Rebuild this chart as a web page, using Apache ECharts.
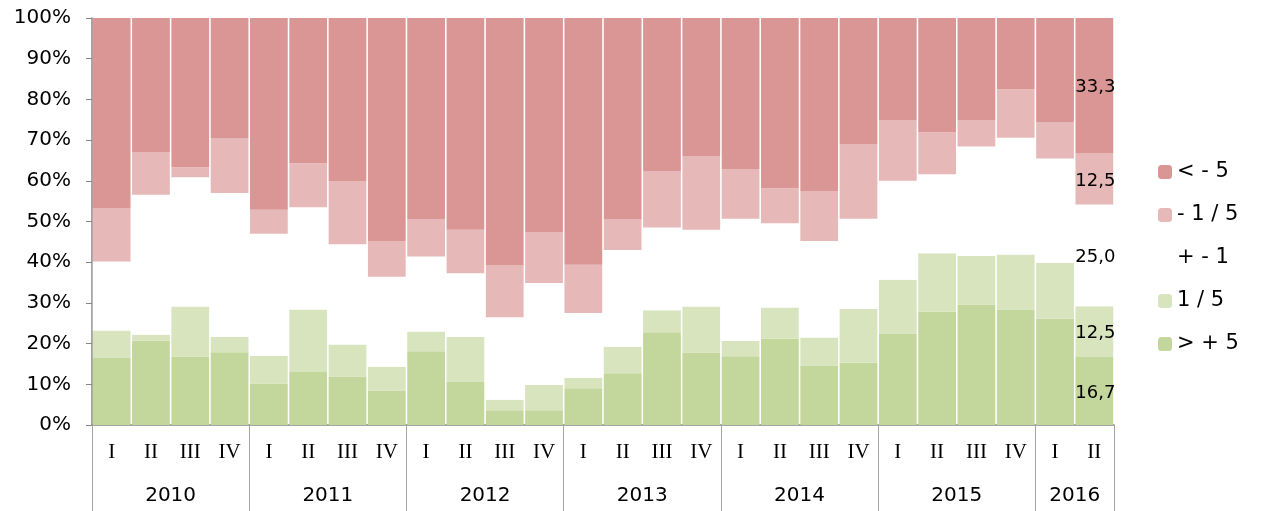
<!DOCTYPE html>
<html>
<head>
<meta charset="utf-8">
<title>chart</title>
<script src="https://cdn.jsdelivr.net/npm/echarts@6/dist/echarts.min.js"></script>
<style>
  html, body { margin: 0; padding: 0; background: #fff; }
  #main { width: 1262px; height: 511px; }
</style>
</head>
<body>
<div id="main"></div>
<script>
// quarters 2010 I .. 2016 II
const quarters = ['I','II','III','IV','I','II','III','IV','I','II','III','IV','I','II','III','IV',
                  'I','II','III','IV','I','II','III','IV','I','II'];
const years = ['2010','2011','2012','2013','2014','2015','2016'];
const quartersPerYear = [4, 4, 4, 4, 4, 4, 2];

// shares in %, one value per quarter
const plus5   = [16.6,20.7,16.8,17.9,10.2,13.0,11.9,8.5,18.1,10.7,3.6,3.6,9.0,12.7,22.8,17.8,16.9,21.2,14.6,15.3,22.5,27.8,29.6,28.4,26.1,16.7];
const oneFive = [6.6,1.5,12.3,3.8,6.8,15.4,7.9,5.8,4.9,10.9,2.6,6.2,2.6,6.5,5.4,11.3,3.8,7.7,6.9,13.2,13.2,14.4,11.9,13.5,13.7,12.5];
const plusMinus1 = [17.0,34.4,31.8,35.3,30.0,25.1,24.6,22.1,18.4,15.7,20.3,25.1,15.9,23.8,20.3,18.9,30.0,20.7,23.7,22.2,24.3,19.4,26.9,28.7,25.7,25.0];
const minusOneFive = [13.0,10.5,2.4,13.4,5.9,10.8,15.4,8.8,9.1,10.7,12.7,12.5,11.9,7.5,13.8,18.0,12.1,8.6,12.2,18.2,14.8,10.3,6.4,11.9,8.8,12.5];
const minus5  = [46.8,32.9,36.7,29.6,47.1,35.7,40.2,54.8,49.5,52.0,60.8,52.6,60.6,49.5,37.7,34.0,37.2,41.8,42.6,31.1,25.2,28.1,25.2,17.5,25.7,33.3];

const seriesNames = ['> + 5', '1 / 5', '+ - 1', '- 1 / 5', '< - 5'];
const seriesData = [plus5, oneFive, plusMinus1, minusOneFive, minus5];
const colors = ['#c3d69b', '#d7e4bd', '#ffffff', '#e6b9b8', '#d99694'];

// year axis: half-quarter points, label in the middle of each year, tick at year borders
const yearSlots = [];
const yearCenters = {};
const yearBorders = { 0: true };
let pos = 0;
years.forEach(function (y, i) {
  yearCenters[pos + quartersPerYear[i]] = y;
  pos += quartersPerYear[i] * 2;
  yearBorders[pos] = true;
});
for (let i = 0; i <= pos; i++) {
  yearSlots.push(yearCenters[i] || '');
}

const last = quarters.length - 1;
const fmt = function (v) { return v.toFixed(1).replace('.', ','); };

const myChart = echarts.init(document.getElementById('main'));
const option = {
  animation: false,
  grid: { left: 92, right: 148, top: 18, bottom: 86 },
  legend: {
    orient: 'vertical',
    left: 1153,
    top: 156,
    itemWidth: 14,
    itemHeight: 14,
    itemGap: 21,
    data: ['< - 5', '- 1 / 5', '+ - 1', '1 / 5', '> + 5'],
    textStyle: { fontFamily: 'DejaVu Sans', fontSize: 21, color: '#000', lineHeight: 22 }
  },
  xAxis: [{
    type: 'category',
    data: quarters,
    axisLine: { lineStyle: { color: '#868686', width: 1.5 } },
    axisTick: { interval: 0, length: 43, lineStyle: { color: '#a6a6a6' } },
    axisLabel: { interval: 0, margin: 17, fontFamily: 'Liberation Serif', fontSize: 21, color: '#000' }
  }, {
    type: 'category',
    position: 'bottom',
    boundaryGap: false,
    data: yearSlots,
    axisLine: { show: false },
    axisTick: {
      length: 90,
      interval: function (i) { return !!yearBorders[i]; },
      lineStyle: { color: '#a6a6a6' }
    },
    axisLabel: {
      interval: function (i) { return !!yearCenters[i]; },
      margin: 61,
      fontFamily: 'DejaVu Sans', fontSize: 20, color: '#000'
    }
  }],
  yAxis: {
    type: 'value',
    min: 0,
    max: 100,
    interval: 10,
    axisLine: { show: true, lineStyle: { color: '#868686', width: 1.5 } },
    axisTick: { show: true, length: 6, lineStyle: { color: '#868686' } },
    splitLine: { show: false },
    axisLabel: { formatter: '{value}%', margin: 21, fontFamily: 'DejaVu Sans', fontSize: 20, color: '#000' }
  },
  series: seriesNames.map(function (name, k) {
    return {
      name: name,
      type: 'bar',
      stack: 'total',
      barCategoryGap: '4%',
      itemStyle: { color: colors[k] },
      data: seriesData[k].map(function (v, i) {
        if (i !== last) return v;
        return {
          value: v,
          label: {
            show: true, position: 'inside', offset: [1, 2], formatter: function (p) { return fmt(p.value); },
            fontFamily: 'DejaVu Sans', fontSize: 18, color: '#000'
          }
        };
      })
    };
  })
};
myChart.setOption(option);
</script>
</body>
</html>
